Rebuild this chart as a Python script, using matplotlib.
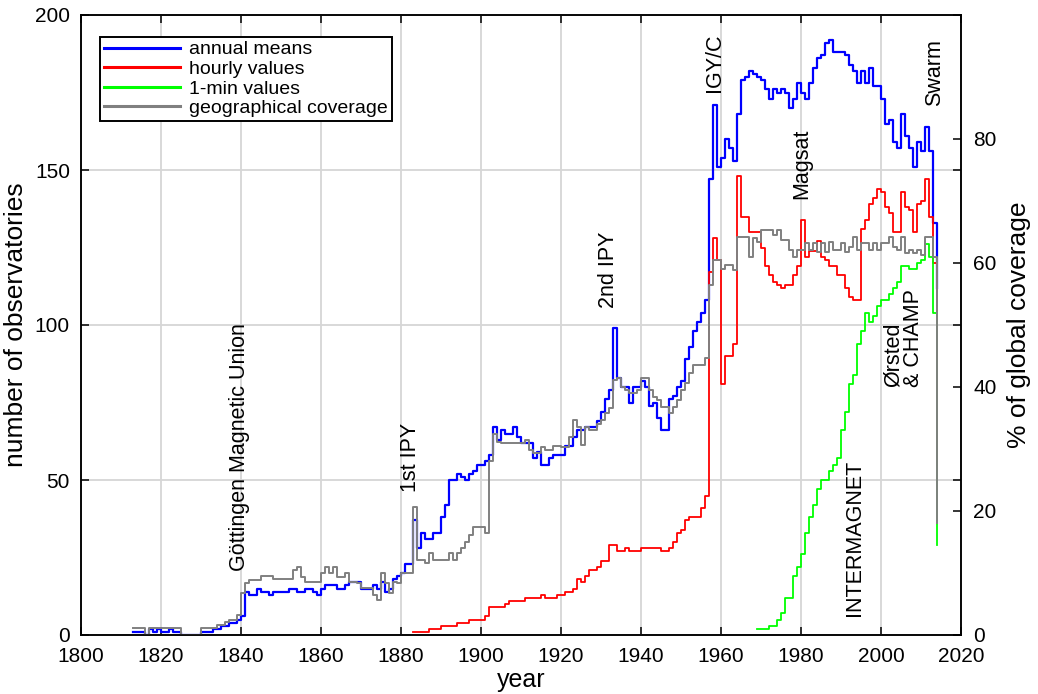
import numpy as np
import matplotlib.pyplot as plt

plt.rcParams['font.family'] = ['Liberation Sans', 'DejaVu Sans']

# number of observatories with annual means, 1813-2014
years_annual = np.arange(1813, 2015)
annual_means = [
    1, 1, 1, 0, 2, 1, 2,                                   # 1813-1819
    1, 1, 2, 1, 1, 0, 0, 0, 0, 0,                          # 1820s
    1, 1, 1, 2, 2, 3, 3, 4, 4, 5,                          # 1830s
    6, 14, 13, 13, 15, 14, 14, 13, 14, 14,                 # 1840s
    14, 14, 15, 15, 14, 14, 15, 15, 14, 13,                # 1850s
    15, 16, 16, 16, 15, 15, 16, 17, 17, 17,                # 1860s
    15, 15, 15, 16, 15, 17, 14, 15, 18, 19,                # 1870s
    20, 23, 23, 37, 28, 33, 31, 31, 33, 33,                # 1880s
    38, 42, 50, 50, 52, 51, 50, 52, 53, 55,                # 1890s
    55, 56, 58, 67, 63, 66, 65, 65, 67, 64,                # 1900s
    62, 62, 62, 57, 59, 55, 55, 57, 58, 58,                # 1910s
    58, 61, 61, 64, 66, 66, 67, 67, 67, 69,                # 1920s
    72, 76, 79, 99, 83, 80, 80, 75, 80, 80,                # 1930s
    82, 80, 74, 75, 70, 66, 66, 76, 77, 80,                # 1940s
    82, 89, 93, 98, 101, 104, 108, 147, 171, 151,          # 1950s
    154, 160, 157, 153, 168, 179, 180, 182, 181, 180,      # 1960s
    179, 176, 173, 176, 175, 176, 175, 170, 173, 178,      # 1970s
    175, 173, 178, 183, 186, 187, 191, 192, 188, 188,      # 1980s
    188, 187, 184, 182, 178, 182, 178, 183, 177, 177,      # 1990s
    173, 165, 166, 159, 157, 168, 161, 157, 151, 159,      # 2000s
    156, 164, 156, 133, 112,                               # 2010-2014
]

# observatories with hourly values, 1883-2014
years_hourly = np.arange(1883, 2015)
hourly_values = [
    1, 1, 1, 1, 2, 2, 2,                                   # 1883-1889
    3, 3, 3, 3, 4, 4, 4, 5, 5, 5,                          # 1890s
    5, 6, 9, 9, 9, 9, 10, 11, 11, 11,                      # 1900s
    11, 12, 12, 12, 12, 13, 12, 12, 12, 13,                # 1910s
    13, 14, 14, 15, 18, 17, 19, 21, 21, 22,                # 1920s
    24, 24, 29, 29, 27, 27, 28, 27, 27, 27,                # 1930s
    28, 28, 28, 28, 28, 27, 27, 28, 30, 33,                # 1940s
    34, 37, 38, 38, 38, 41, 45, 117, 128, 121,             # 1950s
    81, 90, 90, 94, 148, 135, 135, 130, 130, 130,          # 1960s
    125, 119, 116, 114, 113, 112, 113, 113, 116, 119,      # 1970s
    134, 122, 124, 124, 127, 122, 121, 119, 119, 116,      # 1980s
    116, 112, 109, 108, 108, 131, 134, 139, 141, 144,      # 1990s
    143, 138, 136, 130, 130, 143, 138, 137, 130, 139,      # 2000s
    140, 147, 135, 120, 55,                                # 2010-2014
]

# observatories with 1-min values, 1969-2014
years_minute = np.arange(1969, 2015)
minute_values = [
    2, 2, 2, 3, 3, 5, 7, 12, 12, 19, 22,                   # 1969-1979
    26, 33, 38, 42, 47, 50, 50, 53, 55, 57,                # 1980s
    66, 72, 81, 84, 94, 98, 104, 101, 103, 106,            # 1990s
    108, 108, 110, 112, 114, 119, 119, 118, 118, 120,      # 2000s
    121, 126, 122, 104, 29,                                # 2010-2014
]

# geographical coverage (% of globe), 1813-2014
coverage = [
    1.1, 1.1, 1.1, 0, 1.1, 1.1, 1.1,
    1.1, 1.1, 1.1, 1.1, 1.1, 0, 0, 0, 0, 0,
    1.1, 1.1, 1.1, 1.1, 1.6, 1.6, 2.1, 2.4, 2.4, 3.2,
    6.8, 8.4, 8.9, 8.9, 8.9, 9.5, 9.5, 9.5, 9.0, 9.0,
    9.0, 9.0, 9.0, 10.5, 11.0, 9.4, 8.6, 8.6, 8.6, 8.6,
    10.0, 11.0, 10.0, 11.0, 9.4, 9.4, 10.0, 8.6, 8.6, 8.4,
    7.6, 7.6, 7.6, 6.5, 5.6, 10.0, 8.4, 6.8, 8.6, 8.4,
    10.0, 10.0, 10.0, 20.7, 12.1, 12.1, 11.6, 13.2, 12.1, 12.1,
    12.1, 12.1, 13.2, 12.1, 13.2, 14.0, 15.0, 16.1, 17.5, 17.5,
    17.5, 16.4, 28.0, 32.5, 31.2, 30.9, 30.9, 30.9, 30.9, 30.9,
    30.9, 31.5, 29.8, 29.3, 29.3, 30.4, 29.8, 29.8, 30.5, 30.5,
    30.4, 30.4, 32.0, 34.7, 33.6, 30.6, 33.6, 33.0, 33.0, 34.0,
    34.7, 35.8, 36.6, 41.1, 41.4, 40.0, 39.5, 39.0, 39.0, 39.5,
    41.4, 41.4, 39.5, 38.4, 37.9, 36.8, 36.8, 35.8, 36.8, 37.9,
    39.5, 40.6, 42.2, 43.5, 43.5, 43.5, 44.6, 56.5, 60.5, 60.5,
    59.0, 59.7, 59.7, 58.9, 64.2, 64.2, 64.2, 61.0, 64.0, 63.4,
    65.3, 65.3, 65.3, 64.5, 65.3, 63.7, 63.7, 62.1, 61.0, 62.1,
    62.1, 63.2, 62.1, 63.2, 61.8, 63.2, 61.8, 63.4, 62.1, 62.1,
    63.2, 61.8, 62.6, 64.2, 62.1, 63.2, 63.2, 62.1, 63.2, 62.1,
    63.2, 63.2, 64.2, 62.6, 62.1, 64.2, 61.6, 62.1, 61.6, 62.1,
    61.3, 64.2, 64.2, 61.0, 18.0,
]

# (label, year, bottom of text in number of observatories)
events = [
    ('Göttingen Magnetic Union', 1839.7, 20.5),
    ('1st IPY', 1882.3, 46),
    ('2nd IPY', 1932.0, 105.5),
    ('IGY/C', 1958.3, 175),
    ('Magsat', 1980.2, 140.5),
    ('Swarm', 2013.3, 170.5),
    ('INTERMAGNET', 1993.3, 6),
    ('Ørsted\n& CHAMP', 2005.5, 80),
]

fig = plt.figure(figsize=(10.38, 6.94), dpi=100)
ax = fig.add_axes([81/1038, 59/694, 880/1038, 620/694])
ax2 = ax.twinx()

l1, = ax.step(years_annual, annual_means, where='post', color='#0000ff', lw=1.6)
l2, = ax.step(years_hourly, hourly_values, where='post', color='#ff0000', lw=1.3)
l3, = ax.step(years_minute, minute_values, where='post', color='#00ff00', lw=1.3)
l4, = ax2.step(years_annual, coverage, where='post', color='#808080', lw=1.4)

ax.set_xlim(1800, 2020)
ax.set_ylim(0, 200)
ax2.set_ylim(0, 100)
ax.set_xticks(np.arange(1800, 2021, 20))
ax.set_yticks([0, 50, 100, 150, 200])
ax2.set_yticks([0, 20, 40, 60, 80])

ax.grid(True, color='#d6d6d6', lw=1.3)
ax.set_axisbelow(True)

for a in (ax, ax2):
    a.tick_params(direction='in', length=6, width=1.1, labelsize=15)
    for s in a.spines.values():
        s.set_linewidth(1.1)
ax.tick_params(top=True, right=True)
ax.tick_params(axis='x', pad=9)
ax.tick_params(axis='y', pad=8)
ax2.tick_params(axis='y', pad=9)

ax.set_xlabel('year', fontsize=18, labelpad=1)
ax.set_ylabel('number of observatories', fontsize=19, labelpad=5)
ax2.set_ylabel('% of global coverage', fontsize=19, labelpad=7)

for label, yr, ybot in events:
    ax.text(yr, ybot, label, rotation=90, ha='center', va='bottom',
            fontsize=15.5, multialignment='left', linespacing=0.95)

leg = ax2.legend([l1, l2, l3, l4],
                 ['annual means', 'hourly values', '1-min values', 'geographical coverage'],
                 loc='upper left', bbox_to_anchor=(19/880, 1 - 22/620),
                 borderaxespad=0, fontsize=14, handlelength=3.9, handletextpad=0.5,
                 labelspacing=0.1, borderpad=0.2, fancybox=False, framealpha=1)
leg.get_frame().set_edgecolor('black')
leg.get_frame().set_linewidth(1.4)
for h in leg.get_lines():
    h.set_linewidth(2.2)

fig.savefig('out.png', dpi=100)
